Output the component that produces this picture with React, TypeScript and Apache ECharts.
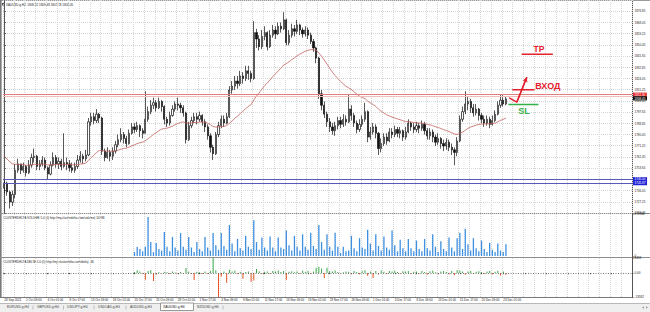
import React, { useEffect, useRef } from "react";
import * as echarts from "echarts";

// ---------- texts ----------
const symbolName = "XAUUSD.g,H4";
const headerQuote = "1809.32 1809.48 1807.18 1808.45";
const volumeTitle = "CLUSTERDELTA VOLUME 5.0 (0) http://my.clusterdelta.com/volume) 10398";
const deltaTitle = "CLUSTERDELTA DELTA 5.0 (0) http://my.clusterdelta.com/delta) -46";
const tabNames = ["EURUSD.g,H4", "GBPUSD.g,H4", "USDJPY.g,H4", "USDCAD.g,H4", "AUDUSD.g,H4", "XAUUSD.g,H4", "NZDUSD.g,H4"];
const activeTab = 5;

// ---------- time axis ----------
const timeTicks = [
  "28 Sep 2021", "1 Oct 09:00", "6 Oct 01:00", "8 Oct 17:00", "13 Oct 09:00", "18 Oct 01:00",
  "20 Oct 17:00", "25 Oct 09:00", "28 Oct 01:00", "1 Nov 17:00", "4 Nov 09:00", "9 Nov 01:00",
  "11 Nov 17:00", "16 Nov 09:00", "19 Nov 01:00", "23 Nov 17:00", "26 Nov 09:00", "1 Dec 01:00",
  "3 Dec 17:00", "8 Dec 09:00", "13 Dec 01:00", "15 Dec 17:00", "20 Dec 09:00", "23 Dec 01:00",
];
const BARS_PER_TICK = 8;
const SLOT_COUNT = 232; // bars + empty chart shift on the right

// ---------- price (one bar = 8 hours) ----------
const firstOpen = 1738;
const closes = [
  1742, 1735, 1727, 1733, 1752, 1757, 1752, 1755, 1750, 1756,
  1762, 1763, 1755, 1757, 1760, 1754, 1749, 1756, 1762, 1757,
  1759, 1755, 1758, 1757, 1754, 1752, 1755, 1760, 1763, 1761,
  1764, 1790, 1794, 1791, 1796, 1793, 1767, 1762, 1766, 1763,
  1767, 1772, 1776, 1780, 1777, 1773, 1781, 1786, 1784, 1787,
  1783, 1781, 1792, 1798, 1803, 1805, 1801, 1806, 1802, 1792,
  1789, 1795, 1800, 1804, 1803, 1801, 1797, 1776, 1787, 1791,
  1794, 1792, 1795, 1790, 1786, 1779, 1770, 1765, 1780, 1787,
  1792, 1789, 1794, 1815, 1818, 1822, 1820, 1826, 1824, 1830,
  1828, 1824, 1860, 1855, 1849, 1857, 1860, 1849, 1858, 1862,
  1859, 1865, 1863, 1870, 1852, 1858, 1863, 1861, 1866, 1862,
  1859, 1862, 1858, 1853, 1848, 1840, 1812, 1803, 1796, 1790,
  1786, 1783, 1787, 1791, 1788, 1792, 1790, 1800, 1795, 1789,
  1784, 1788, 1792, 1798, 1778, 1782, 1786, 1781, 1769, 1773,
  1778, 1775, 1782, 1780, 1784, 1781, 1783, 1778, 1782, 1789,
  1786, 1784, 1787, 1785, 1788, 1783, 1779, 1782, 1778, 1774,
  1777, 1773, 1771, 1774, 1770, 1768, 1766, 1775, 1792, 1798,
  1804, 1806, 1801, 1797, 1800, 1795, 1792, 1789, 1792, 1788,
  1791, 1796, 1803, 1807, 1804, 1808,
];
const highs = [
  1744, 1743, 1736, 1736, 1757, 1761, 1757, 1758, 1756, 1760,
  1765, 1769, 1764, 1760, 1763, 1762, 1755, 1759, 1766, 1764,
  1762, 1761, 1781, 1762, 1760, 1758, 1758, 1764, 1767, 1765,
  1768, 1793, 1797, 1797, 1800, 1797, 1794, 1769, 1770, 1768,
  1770, 1775, 1780, 1785, 1782, 1779, 1784, 1789, 1789, 1790,
  1788, 1785, 1814, 1802, 1807, 1809, 1807, 1809, 1807, 1803,
  1794, 1798, 1803, 1806, 1809, 1805, 1803, 1798, 1790, 1794,
  1797, 1797, 1798, 1796, 1792, 1788, 1781, 1772, 1782, 1790,
  1795, 1795, 1797, 1818, 1822, 1826, 1826, 1830, 1829, 1834,
  1834, 1830, 1869, 1863, 1858, 1862, 1865, 1861, 1862, 1866,
  1865, 1868, 1868, 1876, 1871, 1862, 1867, 1866, 1870, 1867,
  1864, 1865, 1864, 1860, 1855, 1849, 1841, 1815, 1806, 1798,
  1793, 1789, 1790, 1794, 1794, 1796, 1795, 1811, 1803, 1797,
  1791, 1792, 1795, 1805, 1799, 1786, 1789, 1788, 1782, 1777,
  1781, 1781, 1785, 1785, 1787, 1786, 1786, 1784, 1786, 1792,
  1790, 1789, 1790, 1789, 1791, 1790, 1785, 1785, 1784, 1780,
  1781, 1778, 1776, 1777, 1776, 1773, 1770, 1778, 1795, 1802,
  1814, 1810, 1808, 1804, 1804, 1801, 1797, 1795, 1795, 1794,
  1795, 1799, 1806, 1811, 1811, 1810,
];
const lows = [
  1734, 1732, 1722, 1724, 1730, 1750, 1749, 1750, 1747, 1749,
  1754, 1758, 1752, 1752, 1755, 1752, 1745, 1748, 1755, 1754,
  1753, 1752, 1754, 1752, 1751, 1750, 1750, 1753, 1758, 1757,
  1759, 1763, 1787, 1788, 1789, 1789, 1764, 1759, 1761, 1759,
  1760, 1765, 1770, 1774, 1773, 1770, 1772, 1780, 1781, 1782,
  1778, 1777, 1781, 1790, 1796, 1800, 1798, 1800, 1798, 1788,
  1786, 1787, 1794, 1798, 1799, 1797, 1794, 1773, 1775, 1785,
  1789, 1788, 1790, 1787, 1782, 1776, 1766, 1760, 1764, 1778,
  1785, 1786, 1788, 1793, 1812, 1815, 1816, 1818, 1820, 1822,
  1823, 1821, 1823, 1848, 1846, 1847, 1854, 1846, 1848, 1856,
  1855, 1858, 1860, 1862, 1850, 1850, 1856, 1857, 1859, 1858,
  1856, 1857, 1855, 1851, 1845, 1836, 1808, 1799, 1793, 1786,
  1782, 1780, 1779, 1784, 1785, 1786, 1787, 1789, 1791, 1786,
  1781, 1782, 1786, 1790, 1774, 1776, 1780, 1777, 1764, 1766,
  1771, 1772, 1774, 1777, 1778, 1778, 1777, 1775, 1776, 1781,
  1783, 1781, 1782, 1781, 1783, 1780, 1776, 1776, 1774, 1771,
  1772, 1769, 1767, 1768, 1767, 1764, 1756, 1763, 1774, 1790,
  1796, 1799, 1797, 1794, 1795, 1791, 1789, 1786, 1787, 1785,
  1787, 1790, 1795, 1801, 1802, 1803,
];
const maStart = 1762.6; // moving average value at the first bar
const maPeriod = 30;

const priceMin = 1718.45;
const priceMax = 1885.6;
const priceStep = 8.8;

const levelRed = 1811.3;
const levelPink = 1810.0;
const bidPrice = 1808.45;
const levelsBlue = [1745.0, 1741.87];

// ---------- annotations (bar index, price) ----------
const tpLine = [[190.8, 1843.0], [202.3, 1843.0]];
const tpLabel = [197.2, 1847.2];
const entryLine = [[187.35, 1815.2], [195.5, 1815.2]];
const entryLabel = [195.8, 1817.8];
const slLine = [[185.9, 1803.6], [197.0, 1803.6]];
const slLabel = [191.7, 1798.4];
const checkPoints = [[186.2, 1808.8], [189.0, 1805.4], [192.7, 1825.0]];

// ---------- volume ----------
const volumeStart = 48;
const volumeMax = 270964;
const volume = [
  25000,
  58000, 45000, 30000, 60000, 251000, 90000, 25000, 84000, 45000,
  35000, 155000, 60000, 30000, 123000, 55000, 35000, 148000, 60000,
  40000, 123000, 55000, 25000, 90000, 45000, 30000, 123000, 55000,
  35000, 148000, 70000, 40000, 148000, 65000, 40000, 200000, 80000,
  30000, 110000, 50000, 35000, 130000, 60000, 45000, 230000, 90000,
  40000, 120000, 55000, 35000, 125000, 55000, 30000, 120000, 55000,
  45000, 165000, 70000, 35000, 130000, 60000, 35000, 140000, 60000,
  40000, 150000, 65000, 45000, 200000, 90000, 40000, 140000, 60000,
  35000, 150000, 60000, 20000, 60000, 30000, 35000, 130000, 50000,
  30000, 115000, 55000, 45000, 170000, 80000, 35000, 140000, 65000,
  35000, 125000, 55000, 40000, 165000, 70000, 30000, 105000, 50000,
  30000, 110000, 50000, 30000, 100000, 45000, 30000, 110000, 50000,
  35000, 140000, 60000, 25000, 95000, 45000, 30000, 120000, 55000,
  30000, 115000, 150000, 45000, 175000, 75000, 35000, 115000, 50000,
  30000, 100000, 45000, 25000, 85000, 40000, 25000, 80000, 35000,
  25000, 75000,
];

// ---------- delta ----------
const deltaStart = 48;
const deltaMax = 8498;
const deltaMin = -13582;
const delta = [
  600, 1500, 900, -400, -3800, 1200, 1600, -4500, -900, 500,
  -300, 700, 400, -500, 800, 300, -400, 600, -300, 2800,
  900, -500, -3900, 700, 400, -600, 900, -400, 1200, 8498,
  1500, -13582, -2000, 800, -5500, 1800, 900, 1300, -400, 700,
  -3300, 600, 900, -5000, -4200, 2200, 1000, -600, 700, 900,
  -500, 1200, 800, 1400, 600, 1100, -3900, 700, 1000, 500,
  900, -400, 1300, 700, 1100, -600, 900, 3000, 3500, 2500,
  -2800, 3000, 1200, 800, 1400, 600, -300, 500, 900, 700,
  -500, 1200, 600, -700, 1000, 1500, -1500, 800, -2800, 1200,
  -900, 1400, 700, -500, 1100, 900, 1300, 600, -400, 1000,
  800, 1200, -600, 700, 900, -300, 1100, 600, -800, 1000,
  1300, 500, -400, 900, 1200, 600, -700, 1100, -1200, 1500,
  1400, 900, -1000, 800, 1200, -500, 700, 1000, 600, -600,
  900, 1100, -800, 700, 1300, -1400, 900, -1000,
];

// ---------- styling ----------
const FONT = "Liberation Sans, Arial, sans-serif";
const RED = "#e4212d";
const GREEN = "#33b04a";
const gridLine = { color: "#d6d6d6", width: 1, type: [1, 1] as any };

function buildOption() {
  const N = closes.length;
  const cats = Array.from({ length: SLOT_COUNT }, (_, i) => String(i));
  const ohlc = closes.map((c, i) => {
    const o = i === 0 ? firstOpen : closes[i - 1];
    return [o, c, Math.min(lows[i], o, c), Math.max(highs[i], o, c)];
  });
  const alpha = 2 / (maPeriod + 1);
  const ma: number[] = [];
  let m = maStart;
  closes.forEach((c, i) => {
    if (i > 0) m = m + alpha * (c - m);
    ma.push(+m.toFixed(2));
  });
  const volData = Array.from({ length: N }, (_, i) =>
    i >= volumeStart && i - volumeStart < volume.length ? volume[i - volumeStart] : null
  );
  const deltaData = Array.from({ length: N }, (_, i) => {
    const k = i - deltaStart;
    if (k < 0 || k >= delta.length) return null;
    const v = delta[k];
    return { value: v, itemStyle: { color: v >= 0 ? "#37a845" : "#e4531f" } };
  });

  const tag = (value: number, bg: string, lineColor: string, width = 1) => ({
    yAxis: value,
    lineStyle: { color: lineColor, width, type: "solid" },
    label: {
      show: true,
      position: "end",
      distance: 1,
      formatter: value.toFixed(2),
      backgroundColor: bg,
      color: "#fff",
      fontSize: 3,
      fontFamily: FONT,
      padding: [0.6, 1.6],
    },
  });

  const catAxis = (gridIndex: number, extra: any = {}) => ({
    gridIndex,
    type: "category",
    data: cats,
    boundaryGap: true,
    axisLine: { show: false },
    axisTick: { show: false },
    axisLabel: { show: false },
    splitLine: { show: true, interval: 3, lineStyle: gridLine },
    ...extra,
  });

  const rightAxisBase = {
    position: "right",
    axisLine: { show: true, lineStyle: { color: "#555", width: 1 } },
    axisTick: { show: true, length: 1.5, lineStyle: { color: "#555" } },
  };
  const labelBase = { fontSize: 3, fontFamily: FONT, color: "#222", margin: 2.5 };

  const textLabel = (txt: string, color: string, size: number, position: string) => ({
    show: true,
    formatter: txt,
    position,
    distance: 0,
    color,
    fontSize: size,
    fontWeight: "bold",
    fontFamily: FONT,
  });

  const graphics: any[] = [];
  // frame
  graphics.push({ type: "line", shape: { x1: 0, y1: 0.5, x2: 650, y2: 0.5 }, style: { stroke: "#9a9a9a", lineWidth: 1 }, silent: true });
  graphics.push({ type: "line", shape: { x1: 0.8, y1: 0, x2: 0.8, y2: 298 }, style: { stroke: "#7a7a7a", lineWidth: 1.6 }, silent: true });
  graphics.push({ type: "line", shape: { x1: 0, y1: 213.5, x2: 650, y2: 213.5 }, style: { stroke: "#8c8c8c", lineWidth: 1 }, silent: true });
  graphics.push({ type: "line", shape: { x1: 0, y1: 257.5, x2: 650, y2: 257.5 }, style: { stroke: "#8c8c8c", lineWidth: 1 }, silent: true });
  graphics.push({ type: "line", shape: { x1: 0, y1: 297.5, x2: 632.5, y2: 297.5 }, style: { stroke: "#7a7a7a", lineWidth: 1 }, silent: true });
  graphics.push({ type: "line", shape: { x1: 632.5, y1: 0, x2: 632.5, y2: 298 }, style: { stroke: "#555", lineWidth: 1 }, silent: true });
  // header
  graphics.push({ type: "rect", shape: { x: 2, y: 3, width: 2.2, height: 2.6 }, style: { fill: "#555" }, silent: true });
  graphics.push({
    type: "text", x: 6, y: 4.4, silent: true,
    style: { text: symbolName + "  " + headerQuote, fill: "#222", fontSize: 3, fontFamily: FONT, verticalAlign: "middle" },
  });
  graphics.push({
    type: "text", x: 3, y: 217.6, silent: true,
    style: { text: volumeTitle, fill: "#222", fontSize: 3, fontFamily: FONT, verticalAlign: "middle" },
  });
  graphics.push({
    type: "text", x: 3, y: 261.6, silent: true,
    style: { text: deltaTitle, fill: "#222", fontSize: 3, fontFamily: FONT, verticalAlign: "middle" },
  });
  // tab bar
  graphics.push({ type: "rect", shape: { x: 0, y: 303, width: 650, height: 9 }, style: { fill: "#efefef" }, silent: true });
  graphics.push({ type: "line", shape: { x1: 0, y1: 303.5, x2: 650, y2: 303.5 }, style: { stroke: "#b8b8b8", lineWidth: 1 }, silent: true });
  const tabX = [7, 37, 67, 98, 130, 163, 197];
  tabNames.forEach((t, i) => {
    if (i === activeTab) {
      graphics.push({ type: "rect", shape: { x: 160.5, y: 303, width: 33, height: 7.5 }, style: { fill: "#ffffff", stroke: "#808080", lineWidth: 0.8 }, silent: true });
    }
    graphics.push({
      type: "text", x: tabX[i], y: 307.3, silent: true,
      style: { text: t, fill: i === activeTab ? "#111" : "#444", fontSize: 3.3, fontFamily: FONT, verticalAlign: "middle" },
    });
    const sepX = [33, 63.5, 94, 126, 0, 0, 223][i];
    if (sepX) graphics.push({ type: "line", shape: { x1: sepX, y1: 305.5, x2: sepX, y2: 309.5 }, style: { stroke: "#9a9a9a", lineWidth: 0.6 }, silent: true });
  });
  graphics.push({ type: "polygon", shape: { points: [[642, 307.5], [644, 306.3], [644, 308.7]] }, style: { fill: "#9a9a9a" }, silent: true });
  graphics.push({ type: "polygon", shape: { points: [[648, 307.5], [646, 306.3], [646, 308.7]] }, style: { fill: "#9a9a9a" }, silent: true });

  return {
    animation: false,
    backgroundColor: "#ffffff",
    textStyle: { fontFamily: FONT },
    grid: [
      { left: 3, top: 0, width: 629, height: 213, containLabel: false, outerBoundsMode: "none" },
      { left: 3, top: 214, width: 629, height: 42, containLabel: false, outerBoundsMode: "none" },
      { left: 3, top: 258, width: 629, height: 39, containLabel: false, outerBoundsMode: "none" },
    ],
    xAxis: [
      catAxis(0),
      catAxis(1),
      catAxis(2, {
        axisLabel: {
          show: true,
          interval: BARS_PER_TICK - 1,
          align: "left",
          fontSize: 3,
          fontFamily: FONT,
          color: "#222",
          margin: 1.6,
          formatter: (_v: string, i: number) => (i % BARS_PER_TICK === 0 ? timeTicks[i / BARS_PER_TICK] ?? "" : ""),
        },
        axisTick: { show: true, interval: BARS_PER_TICK - 1, alignWithLabel: true, length: 1.2, lineStyle: { color: "#555" } },
      }),
      { gridIndex: 0, type: "value", min: -0.5, max: SLOT_COUNT - 0.5, show: false, splitLine: { show: false } },
    ],
    yAxis: [
      {
        gridIndex: 0, type: "value", min: priceMin, max: priceMax, interval: priceStep,
        ...rightAxisBase,
        axisLabel: { ...labelBase, showMaxLabel: false, formatter: (v: number) => v.toFixed(2) },
        splitLine: { show: true, lineStyle: gridLine },
      },
      {
        gridIndex: 1, type: "value", min: 0, max: volumeMax, interval: volumeMax,
        ...rightAxisBase,
        axisLabel: { ...labelBase, formatter: (v: number) => String(Math.round(v)) },
        splitLine: { show: false },
      },
      {
        gridIndex: 2, type: "value", min: deltaMin, max: deltaMax, interval: -deltaMin,
        ...rightAxisBase,
        axisLabel: { ...labelBase, formatter: (v: number) => (v === 0 ? "0.00" : String(Math.round(v))) },
        splitLine: { show: false },
      },
    ],
    series: [
      {
        type: "candlestick",
        xAxisIndex: 0, yAxisIndex: 0,
        data: ohlc,
        barWidth: 1.7,
        clip: false,
        silent: true,
        itemStyle: { color: "#ffffff", color0: "#111111", borderColor: "#111111", borderColor0: "#111111", borderWidth: 0.7 },
      },
      {
        type: "line",
        xAxisIndex: 0, yAxisIndex: 0,
        data: ma,
        symbol: "none",
        silent: true,
        clip: false,
        lineStyle: { color: "#c0625f", width: 0.8 },
        z: 3,
        markLine: {
          silent: true,
          symbol: ["none", "none"],
          animation: false,
          data: [
            { yAxis: levelPink, lineStyle: { color: "#f0bcbc", width: 1, type: "solid" }, label: { show: false } },
            tag(levelRed, "#e3262b", "#e27d7d"),
            tag(bidPrice, "#111111", "rgba(0,0,0,0)"),
            tag(levelsBlue[0], "#2323d8", "#5a5ab8"),
            tag(levelsBlue[1], "#2323d8", "#5a5ab8"),
          ],
        },
      },
      {
        type: "line", xAxisIndex: 3, yAxisIndex: 0, data: tpLine, symbol: "none", silent: true,
        lineStyle: { color: RED, width: 1.4 }, z: 5,
        markPoint: {
          silent: true, symbol: "circle", symbolSize: 0, itemStyle: { color: "rgba(0,0,0,0)" },
          data: [{ coord: tpLabel, label: textLabel("TP", RED, 8.5, "inside") }],
        },
      },
      {
        type: "line", xAxisIndex: 3, yAxisIndex: 0, data: entryLine, symbol: "none", silent: true,
        lineStyle: { color: RED, width: 1.4 }, z: 5,
        markPoint: {
          silent: true, symbol: "circle", symbolSize: 0, itemStyle: { color: "rgba(0,0,0,0)" },
          data: [{ coord: entryLabel, label: textLabel("ВХОД", RED, 9, "right") }],
        },
      },
      {
        type: "line", xAxisIndex: 3, yAxisIndex: 0, data: slLine, symbol: "none", silent: true,
        lineStyle: { color: GREEN, width: 1.4 }, z: 5,
        markPoint: {
          silent: true, symbol: "circle", symbolSize: 0, itemStyle: { color: "rgba(0,0,0,0)" },
          data: [{ coord: slLabel, label: textLabel("SL", GREEN, 9, "inside") }],
        },
      },
      {
        type: "line", xAxisIndex: 3, yAxisIndex: 0, data: checkPoints, symbol: "none", silent: true,
        lineStyle: { color: RED, width: 1.4 }, z: 5,
        markLine: {
          silent: true,
          symbol: ["none", "arrow"],
          symbolSize: [4, 5],
          label: { show: false },
          lineStyle: { color: RED, width: 1.4, type: "solid" },
          data: [[{ coord: checkPoints[1] }, { coord: checkPoints[2] }]],
        },
      },
      {
        type: "bar",
        xAxisIndex: 1, yAxisIndex: 1,
        data: volData,
        barWidth: 1.3,
        silent: true,
        itemStyle: { color: "#3d8fe0" },
      },
      {
        type: "bar",
        xAxisIndex: 2, yAxisIndex: 2,
        data: deltaData,
        barWidth: 1,
        silent: true,
        markLine: {
          silent: true,
          symbol: ["none", "none"],
          label: { show: false },
          data: [{ yAxis: 0, lineStyle: { color: "#555", width: 0.8, type: [1, 1.5] } }],
        },
      },
    ],
    graphic: graphics,
  };
}

export default function App() {
  const ref = useRef<HTMLDivElement>(null);
  useEffect(() => {
    if (!ref.current) return;
    const chart = echarts.init(ref.current, null, { renderer: "svg" });
    chart.setOption(buildOption() as any);
    return () => chart.dispose();
  }, []);
  return (
    <div
      ref={ref}
      style={{ position: "fixed", left: 0, top: 0, width: 650, height: 312, background: "#fff" }}
    />
  );
}
